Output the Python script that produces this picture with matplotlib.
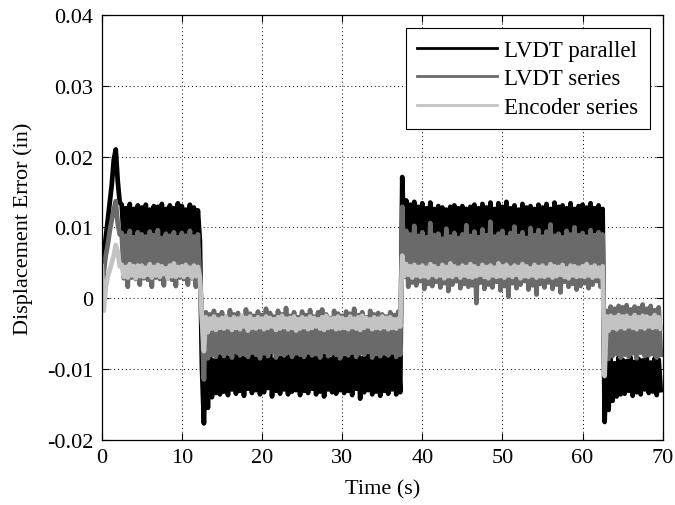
import numpy as np
import matplotlib.pyplot as plt

plt.rcParams['font.family'] = ['Liberation Serif', 'DejaVu Serif']

# Sample spacing of the traces (s)
dt = 0.25

# Displacement error in thousandths of an inch, one value every 0.25 s (rows = 5 s)
lvdt_parallel = [
    0.5, 5.5, 8.5, 11.0, 13.5, 16.0, 19.5, 21.0, 16.5, 13.5, 13.2, 8.0, 12.7, 7.5, 13.3, 8.2, 12.6, 7.0, 13.1, 7.8,
    12.8, 7.4, 13.2, 8.1, 12.5, 7.2, 13.0, 7.9, 12.9, 6.8, 13.3, 8.3, 12.6, 7.5, 13.1, 7.7, 12.7, 8.0, 13.4, 7.3,
    13.0, 7.6, 12.5, 8.2, 13.2, 7.1, 12.8, 7.9, 12.4, 8.0, -9.5, -17.7, -8.5, -15.5, -8.2, -14.0, -8.8, -13.4, -7.9, -13.6,
    -8.1, -13.2, -7.8, -13.7, -8.5, -12.9, -7.6, -13.5, -8.3, -13.1, -7.9, -13.8, -8.6, -12.8, -8.0, -13.4, -7.7, -13.0, -8.4, -13.6,
    -7.9, -13.3, -8.2, -12.7, -7.6, -13.9, -8.7, -13.1, -8.0, -13.5, -7.8, -12.9, -8.4, -13.6, -7.7, -13.2, -8.3, -13.0, -7.9, -13.7,
    -8.5, -13.1, -7.8, -13.4, -8.1, -12.8, -7.6, -13.6, -8.4, -13.2, -8.0, -13.9, -7.7, -12.9, -8.6, -13.3, -7.9, -13.5, -8.2, -13.0,
    -7.8, -13.4, -8.3, -13.1, -7.6, -13.7, -8.1, -12.8, -7.9, -14.2, -8.5, -13.3, -7.7, -13.0, -8.2, -13.6, -7.5, -13.2, -8.0, -13.8,
    -7.9, -13.1, -8.4, -13.5, -7.6, -12.9, -8.2, -13.6, -7.8, -13.3, 17.1, 7.5, 13.8, 8.0, 13.2, 7.2, 13.6, 8.3, 12.9, 7.6,
    13.4, 7.8, 12.7, 7.1, 13.5, 8.2, 12.6, 7.6, 13.0, 7.9, 12.8, 7.3, 12.5, 8.1, 12.9, 7.5, 13.1, 7.8, 12.7, 7.2,
    13.0, 8.0, 12.6, 7.4, 12.9, 7.9, 13.2, 7.6, 12.7, 8.2, 13.3, 7.3, 12.8, 7.7, 13.5, 8.0, 12.6, 7.5, 13.4, 7.9,
    12.9, 7.2, 13.6, 8.1, 12.7, 7.6, 13.1, 7.8, 12.5, 8.3, 13.3, 7.4, 12.8, 7.9, 13.0, 7.1, 12.6, 8.0, 13.2, 7.7,
    12.8, 7.5, 13.3, 7.9, 12.6, 8.2, 13.5, 7.3, 12.9, 7.8, 13.1, 7.6, 12.7, 8.0, 13.4, 7.4, 12.6, 7.9, 13.0, 7.7,
    13.2, 7.6, 12.8, 8.0, 13.4, 7.3, 12.7, 7.9, 13.1, 7.5, 12.6, -17.5, -9.0, -15.8, -8.6, -14.5, -9.2, -13.9, -8.4, -13.6,
    -8.7, -13.5, -8.9, -13.1, -8.4, -13.8, -9.0, -13.3, -8.6, -13.6, -8.8, -12.9, -8.3, -13.4, -9.1, -13.2, -8.5, -13.7, -8.7, -13.0,
]

lvdt_series = [
    -0.5, 3.5, 6.0, 7.5, 9.5, 11.0, 12.5, 13.7, 10.5, 9.0, 9.2, 2.8, 8.8, 1.6, 9.5, 2.9, 8.6, 2.7, 9.3, 1.9,
    9.0, 2.8, 8.7, 2.6, 9.4, 1.6, 8.9, 2.9, 9.6, 2.7, 8.5, 1.8, 9.1, 2.8, 8.8, 2.6, 9.3, 1.7, 8.6, 2.9,
    9.2, 2.7, 8.8, 1.9, 9.5, 2.8, 8.7, 1.6, 9.0, 2.9, -2.5, -11.5, -2.0, -8.5, -2.3, -8.0, -1.8, -8.3, -2.4, -7.7,
    -2.0, -8.2, -2.6, -7.8, -1.7, -8.4, -2.3, -7.6, -2.1, -8.1, -2.7, -7.9, -1.6, -8.3, -2.2, -7.7, -2.5, -8.0, -1.9, -8.5,
    -2.4, -7.8, -1.5, -8.2, -2.1, -7.6, -2.6, -8.4, -1.8, -7.9, -2.3, -8.1, -1.4, -7.7, -2.5, -8.3, -2.0, -7.8, -2.7, -8.0,
    -1.9, -8.3, -2.4, -7.7, -1.7, -8.1, -2.6, -7.9, -2.0, -8.4, -1.6, -7.6, -2.3, -8.2, -2.8, -7.8, -1.8, -8.0, -2.2, -8.5,
    -2.5, -7.9, -1.9, -8.1, -2.2, -7.7, -1.5, -8.3, -2.4, -7.8, -2.0, -8.0, -2.7, -7.6, -1.8, -8.4, -2.3, -7.9, -2.1, -8.2,
    -2.3, -7.8, -2.6, -8.1, -2.0, -7.7, -2.4, -8.3, -1.9, -8.0, 12.9, 3.0, 9.5, 1.6, 9.0, 2.2, 10.2, 1.8, 8.8, 2.4,
    9.3, 1.3, 8.6, 2.0, 10.6, 1.7, 8.9, 2.3, 9.1, 1.5, 8.4, 2.1, 9.8, 1.0, 8.7, 1.9, 9.2, 2.4, 8.5, 1.4,
    9.0, 2.0, 10.3, 1.6, 8.8, 1.8, 9.4, -0.7, 8.6, 2.2, 9.7, 1.3, 8.9, 1.9, 10.8, 1.5, 8.7, 2.3, 9.1, 1.1,
    9.5, 1.7, 8.6, 0.2, 9.2, 2.1, 10.1, 1.4, 8.8, 1.9, 9.3, 2.4, 8.5, 1.2, 9.9, 1.8, 8.9, 0.5, 9.6, 2.0,
    8.7, 1.5, 9.4, 2.2, 10.4, 1.3, 8.8, 1.9, 9.1, 0.8, 8.6, 2.3, 9.5, 1.6, 9.0, 2.0, 10.0, 1.2, 8.9, 1.7,
    9.2, 2.1, 8.7, 1.4, 9.6, 1.9, 8.9, 2.4, 9.3, 1.6, 9.0, -9.5, -1.8, -8.6, -1.2, -8.2, -1.5, -7.9, -1.1, -8.4,
    -1.3, -8.0, -1.0, -8.3, -1.6, -7.8, -1.2, -8.5, -1.4, -7.7, -0.9, -8.2, -1.5, -8.1, -1.1, -7.9, -1.7, -8.4, -1.3, -8.0,
]

encoder_series = [
    4.5, -1.8, 1.5, 3.0, 4.0, 5.0, 6.0, 7.5, 6.5, 4.5, 4.7, 3.0, 4.4, 2.9, 4.8, 3.2, 4.5, 2.8, 4.6, 3.1,
    4.6, 3.0, 4.3, 3.3, 4.8, 2.9, 4.4, 3.2, 4.7, 3.0, 4.5, 3.4, 4.2, 2.8, 4.6, 3.1, 4.9, 3.0, 4.4, 3.2,
    4.5, 3.0, 4.7, 3.3, 4.3, 2.9, 4.6, 3.1, 4.4, 3.0, -3.0, -7.5, -2.7, -4.8, -2.9, -4.3, -2.6, -4.5, -3.0, -4.2,
    -2.8, -4.3, -2.6, -4.1, -3.0, -4.5, -2.7, -4.2, -2.9, -4.4, -2.5, -4.0, -2.8, -4.6, -2.6, -4.2, -3.0, -4.3, -2.7, -4.1,
    -2.9, -4.4, -2.6, -4.2, -2.8, -4.0, -3.0, -4.5, -2.7, -4.3, -2.5, -4.1, -2.9, -4.4, -2.8, -4.2, -2.6, -4.6, -3.0, -4.3,
    -2.7, -4.1, -2.9, -4.4, -2.6, -4.2, -2.8, -4.0, -3.0, -4.3, -2.7, -4.5, -2.5, -4.2, -2.9, -4.1, -2.8, -4.4, -2.6, -4.3,
    -2.8, -4.2, -3.0, -4.4, -2.6, -4.1, -2.9, -4.3, -2.7, -4.5, -2.5, -4.2, -2.8, -4.0, -3.0, -4.4, -2.7, -4.2, -2.9, -4.3,
    -2.6, -4.1, -2.8, -4.4, -2.7, -4.2, -3.0, -4.3, -2.9, -4.0, 6.0, 3.1, 4.8, 3.3, 4.5, 2.9, 4.7, 3.2, 4.4, 3.0,
    4.6, 3.1, 4.3, 2.9, 4.8, 3.3, 4.5, 3.0, 4.2, 3.2, 4.7, 2.8, 4.4, 3.1, 4.9, 3.0, 4.5, 3.3, 4.3, 2.9,
    4.6, 3.2, 4.4, 3.0, 4.8, 2.9, 4.5, 3.1, 4.2, 3.3, 4.7, 3.0, 4.4, 2.8, 4.6, 3.2, 4.3, 3.0, 4.9, 3.1,
    4.5, 2.9, 4.7, 3.2, 4.3, 3.0, 4.6, 3.3, 4.4, 2.8, 4.8, 3.1, 4.5, 3.0, 4.2, 3.2, 4.7, 2.9, 4.4, 3.1,
    4.6, 3.0, 4.3, 3.2, 4.8, 2.9, 4.5, 3.1, 4.4, 3.3, 4.7, 3.0, 4.2, 2.8, 4.6, 3.2, 4.5, 3.0, 4.3, 3.1,
    4.5, 3.0, 4.8, 3.2, 4.4, 2.9, 4.6, 3.1, 4.3, 3.0, 4.5, -11.0, -2.6, -4.6, -2.5, -4.2, -2.7, -4.4, -2.4, -4.1,
    -2.6, -4.3, -2.5, -4.0, -2.8, -4.2, -2.4, -4.4, -2.7, -4.1, -2.5, -4.3, -2.6, -4.0, -2.8, -4.2, -2.4, -4.1, -2.7, -4.3,
]

series_labels = ['LVDT parallel', 'LVDT series', 'Encoder series']
x_ticks = [0, 10, 20, 30, 40, 50, 60, 70]
y_ticks = [-0.02, -0.01, 0, 0.01, 0.02, 0.03, 0.04]
y_ticklabels = ['-0.02', '-0.01', '0', '0.01', '0.02', '0.03', '0.04']

colors = ['#000000', '#6a6a6a', '#c3c3c3']
fs = 16

fig = plt.figure(figsize=(6.75, 5.06), dpi=100)
ax = fig.add_axes([0.1507, 0.1291, 0.8311, 0.8393])

# Thick lines so the dense zig-zag of the noisy signal closes into a solid band
for vals, lab, col in zip([lvdt_parallel, lvdt_series, encoder_series], series_labels, colors):
    y = np.array(vals) * 1e-3
    t = np.arange(len(y)) * dt
    ax.plot(t, y, color=col, linewidth=3.4, label=lab)

ax.set_xlim(0, 70)
ax.set_ylim(-0.02, 0.04)
ax.set_xticks(x_ticks)
ax.set_yticks(y_ticks)
ax.set_yticklabels(y_ticklabels)
ax.grid(True, color='black', linestyle=(0, (1, 3)), linewidth=0.7)
ax.tick_params(direction='in', top=True, right=True, length=5, width=0.8, labelsize=fs, pad=6)
for s in ax.spines.values():
    s.set_linewidth(0.9)

ax.set_xlabel('Time (s)', fontsize=fs, labelpad=9)
ax.set_ylabel('Displacement Error (in)', fontsize=fs, labelpad=10)

leg = ax.legend(loc='upper right', bbox_to_anchor=(0.977, 0.969), borderaxespad=0,
                fontsize=16.5, handlelength=3.5, handletextpad=0.3, labelspacing=0.33,
                borderpad=0.5, fancybox=False, framealpha=1, edgecolor='black')
leg.get_frame().set_linewidth(0.8)
for h in leg.get_lines():
    h.set_linewidth(2.0)

fig.savefig('out.png', dpi=100)
